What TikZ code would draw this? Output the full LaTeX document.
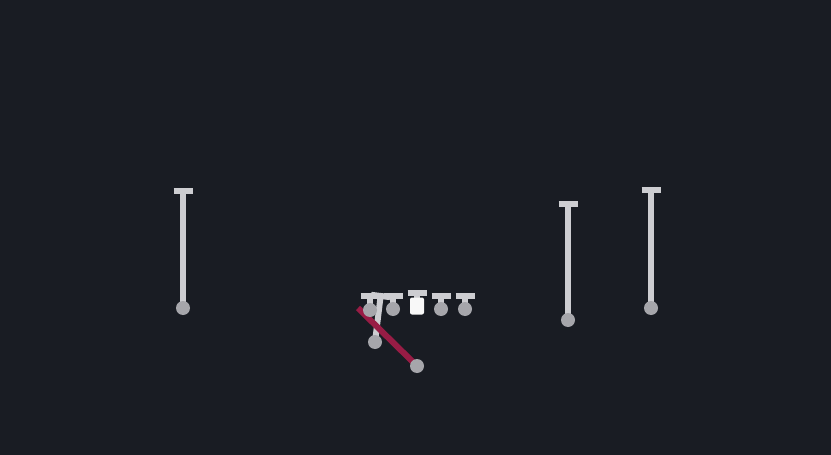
\documentclass[tikz,border=0pt]{standalone}
\usepackage{tikz}
\usetikzlibrary{arrows.meta}

\definecolor{field}{HTML}{191C23}
\definecolor{route}{HTML}{CDCDD1}
\definecolor{dot}{HTML}{A6A6AB}
\definecolor{run}{HTML}{981C45}

\pgfdeclarelayer{back}
\pgfdeclarelayer{routes}
\pgfsetlayers{back,routes,main}

\tikzset{
  player/.style={circle, fill=dot, minimum size=14pt, inner sep=0pt},
  snapper/.style={rectangle, rounded corners=2pt, fill=white!92!dot, minimum width=14pt, minimum height=17pt, inner sep=0pt},
  block/.style={line width=6pt, route, -{Bar[width=19pt]}},
}

\begin{document}
\begin{tikzpicture}[x=1pt, y=-1pt]
            \begin{pgfonlayer}{back}
            \fill[field] (0,0) rectangle (831,455);
            \end{pgfonlayer}
            \useasboundingbox (0,0) rectangle (831,455);
            % receivers
            \node[player] (wrl) at (183,308) {};
            \node[player] (slot) at (568,320) {};
            \node[player] (wrr) at (651,308) {};
            \coordinate (wrlend) at (183,188);
            \coordinate (slotend) at (568,201);
            \coordinate (wrrend) at (651,187);
            % line
            \node[player] (lt) at (370,310) {};
            \node[player] (lg) at (393,309) {};
            \node[snapper] (c) at (417,306) {};
            \node[player] (rg) at (441,309) {};
            \node[player] (rt) at (465,309) {};
            \coordinate (ltend) at (370,293);
            \coordinate (lgend) at (393,293);
            \coordinate (cend) at (417,290);
            \coordinate (rgend) at (441,293);
            \coordinate (rtend) at (465,293);
            % backfield
            \node[player] (qb) at (375,342) {};
            \node[player] (rb) at (417,366) {};
            \coordinate (qbend) at (381,293);
            \coordinate (runstart) at (358,308);
            \begin{pgfonlayer}{routes}
            \draw[block] (wrl.center) -- (wrlend);
            \draw[block] (slot.center) -- (slotend);
            \draw[block] (wrr.center) -- (wrrend);
            \draw[block] (lt.center) -- (ltend);
            \draw[block] (lg.center) -- (lgend);
            \draw[block] (c.center) -- (cend);
            \draw[block] (rg.center) -- (rgend);
            \draw[block] (rt.center) -- (rtend);
            \draw[block] (qb.center) -- (qbend);
            \draw[line width=6pt, run] (runstart) -- (rb.center);
            \end{pgfonlayer}
        \end{tikzpicture}
\end{document}
